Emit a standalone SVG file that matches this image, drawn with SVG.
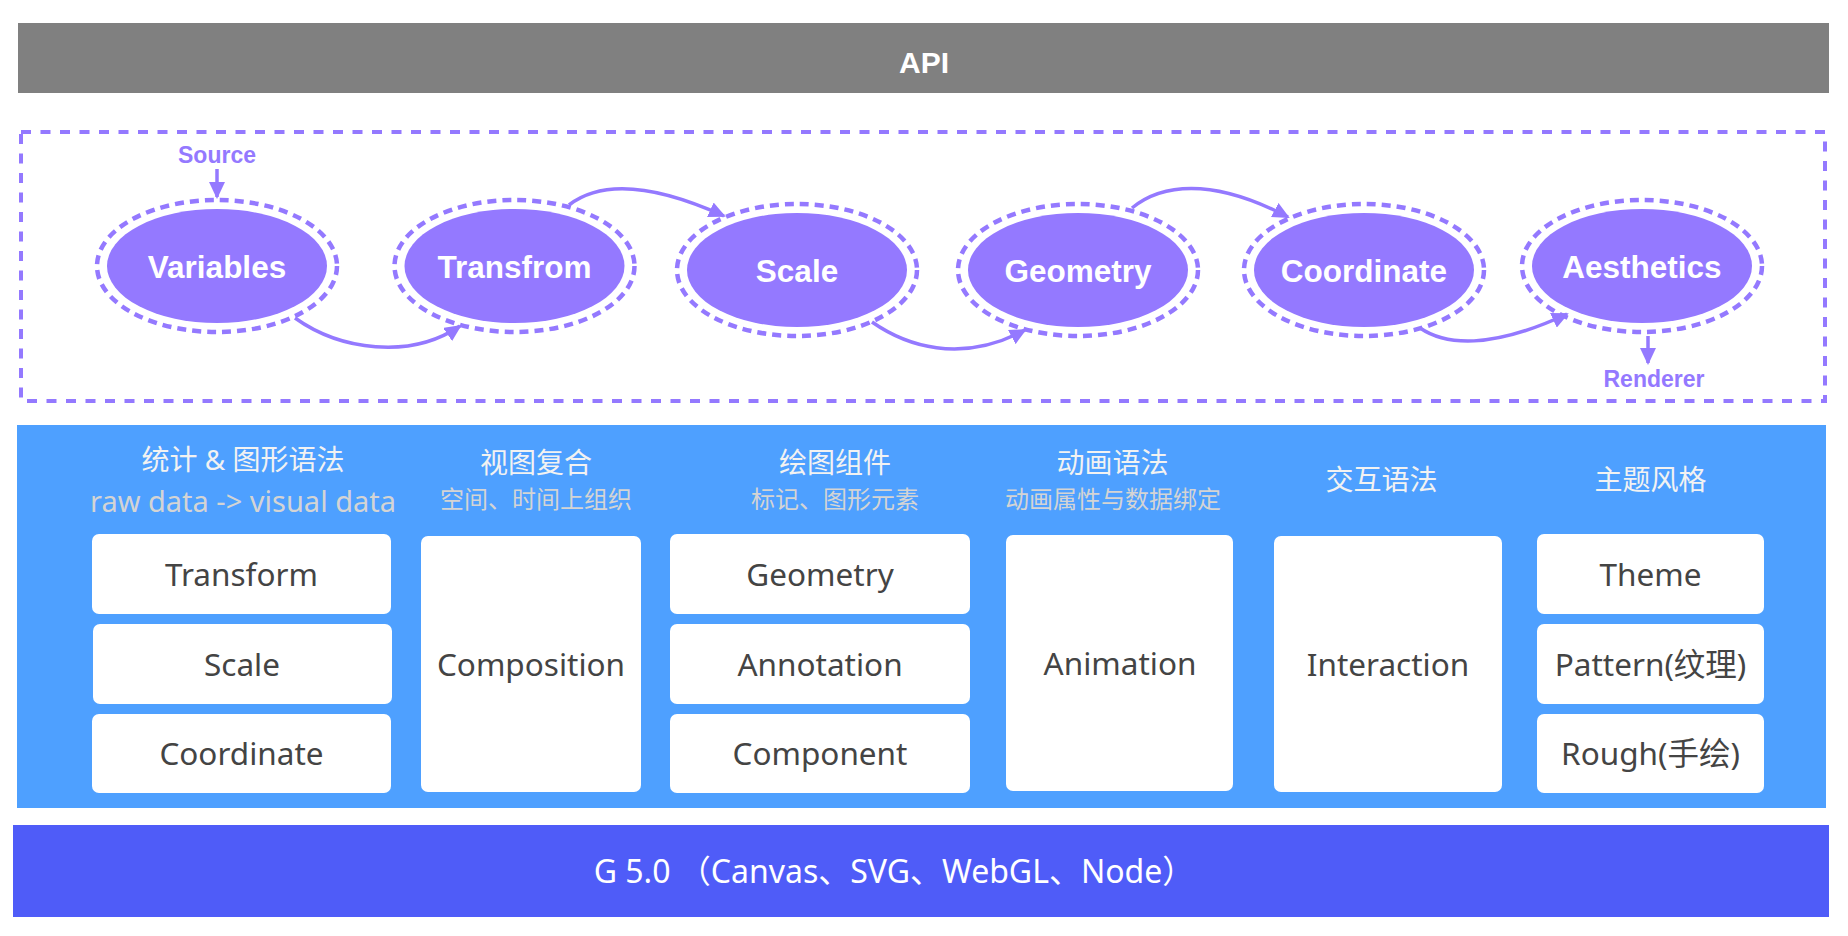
<svg xmlns="http://www.w3.org/2000/svg" width="1848" height="936" viewBox="0 0 1848 936">
<defs>
<style>
.pl{fill:#9479FF}
.ring{fill:none;stroke:#9479FF;stroke-width:4.5;stroke-dasharray:9 6}
.nl{font-family:"Liberation Sans",Arial,sans-serif;font-weight:bold;font-size:31.5px;fill:#fff;text-anchor:middle}
.io{font-family:"Liberation Sans",Arial,sans-serif;font-weight:bold;font-size:23px;fill:#9479FF;text-anchor:middle}
.con{fill:none;stroke:#9479FF;stroke-width:3.5}
.box{fill:#fff}
.bt{font-family:"Noto Sans","Noto Sans CJK SC",sans-serif;font-size:31.5px;fill:#444;text-anchor:middle}
.hd{font-family:"Noto Sans","Noto Sans CJK SC",sans-serif;font-size:28px;fill:#F2F2F2;text-anchor:middle}
.sub{font-family:"Noto Sans","Noto Sans CJK SC",sans-serif;font-size:24px;fill:#D4D4D4;text-anchor:middle}
.raw{font-size:29px}
</style>
<marker id="ah" markerUnits="userSpaceOnUse" markerWidth="18" markerHeight="16" refX="15" refY="8" orient="auto"><path d="M0,0 L17,8 L0,16 z" fill="#9479FF"/></marker>
</defs>
<rect width="1848" height="936" fill="#fff"/>

<g id="api">
<rect x="18" y="23" width="1811" height="70" fill="#808080"/>
<text x="924" y="73" font-family="Liberation Sans, Arial, sans-serif" font-weight="bold" font-size="30" fill="#fff" text-anchor="middle">API</text>
</g>

<g id="pipeline">
<rect x="21" y="132" width="1804" height="269" fill="none" stroke="#9479FF" stroke-width="4" stroke-dasharray="10 9.5"/>
<text class="io" x="217" y="163">Source</text>
<text class="io" x="1654" y="387">Renderer</text>
</g>

<g id="n-variables">
<ellipse class="ring" cx="217" cy="266" rx="120" ry="66"/>
<ellipse class="pl" cx="217" cy="266" rx="110" ry="57"/>
<text class="nl" x="217" y="278">Variables</text>
</g>
<g id="n-transfrom">
<ellipse class="ring" cx="514.5" cy="266" rx="120" ry="66"/>
<ellipse class="pl" cx="514.5" cy="266" rx="110" ry="57"/>
<text class="nl" x="514.5" y="278">Transfrom</text>
</g>
<g id="n-scale">
<ellipse class="ring" cx="797" cy="270" rx="120" ry="66"/>
<ellipse class="pl" cx="797" cy="270" rx="110" ry="57"/>
<text class="nl" x="797" y="282">Scale</text>
</g>
<g id="n-geometry">
<ellipse class="ring" cx="1078" cy="270" rx="120" ry="66"/>
<ellipse class="pl" cx="1078" cy="270" rx="110" ry="57"/>
<text class="nl" x="1078" y="282">Geometry</text>
</g>
<g id="n-coordinate">
<ellipse class="ring" cx="1364" cy="270" rx="120" ry="66"/>
<ellipse class="pl" cx="1364" cy="270" rx="110" ry="57"/>
<text class="nl" x="1364" y="282">Coordinate</text>
</g>
<g id="n-aesthetics">
<ellipse class="ring" cx="1642" cy="266" rx="120" ry="66"/>
<ellipse class="pl" cx="1642" cy="266" rx="110" ry="57"/>
<text class="nl" x="1642" y="278">Aesthetics</text>
</g>

<g id="connectors">
<path class="con" marker-end="url(#ah)" d="M217,169 L217,197"/>
<path class="con" marker-end="url(#ah)" d="M295,318 C340,350 410,360 460,326"/>
<path class="con" marker-end="url(#ah)" d="M569,205 C595,185 640,178 724,216"/>
<path class="con" marker-end="url(#ah)" d="M872,322 C905,345 960,365 1025,330"/>
<path class="con" marker-end="url(#ah)" d="M1132,208 C1160,185 1210,176 1288,217"/>
<path class="con" marker-end="url(#ah)" d="M1420,328 C1445,345 1490,350 1567,314"/>
<path class="con" marker-end="url(#ah)" d="M1648,336 L1648,363"/>
</g>

<g id="layer">
<rect x="17" y="425" width="1809" height="383" fill="#4EA0FF"/>
</g>

<g id="col-stat">
<text class="hd" x="243" y="470">统计 &amp; 图形语法</text>
<text class="sub raw" x="243" y="512">raw data -&gt; visual data</text>
<rect class="box" x="92" y="534" width="299" height="80" rx="7"/>
<text class="bt" x="241.5" y="586">Transform</text>
<rect class="box" x="93" y="624" width="299" height="80" rx="7"/>
<text class="bt" x="242" y="676">Scale</text>
<rect class="box" x="92" y="714" width="299" height="79" rx="7"/>
<text class="bt" x="241.5" y="765">Coordinate</text>
</g>

<g id="col-composition">
<text class="hd" x="536" y="473">视图复合</text>
<text class="sub" x="536" y="508">空间、时间上组织</text>
<rect class="box" x="421" y="536" width="220" height="256" rx="7"/>
<text class="bt" x="531" y="676">Composition</text>
</g>

<g id="col-component">
<text class="hd" x="835" y="473">绘图组件</text>
<text class="sub" x="835" y="508">标记、图形元素</text>
<rect class="box" x="670" y="534" width="300" height="80" rx="7"/>
<text class="bt" x="820" y="586">Geometry</text>
<rect class="box" x="670" y="624" width="300" height="80" rx="7"/>
<text class="bt" x="820" y="676">Annotation</text>
<rect class="box" x="670" y="714" width="300" height="79" rx="7"/>
<text class="bt" x="820" y="765">Component</text>
</g>

<g id="col-animation">
<text class="hd" x="1112.5" y="473">动画语法</text>
<text class="sub" x="1113" y="508">动画属性与数据绑定</text>
<rect class="box" x="1006" y="535" width="227" height="256" rx="7"/>
<text class="bt" x="1120" y="675">Animation</text>
</g>

<g id="col-interaction">
<text class="hd" x="1381.5" y="490">交互语法</text>
<rect class="box" x="1274" y="536" width="228" height="256" rx="7"/>
<text class="bt" x="1388" y="676">Interaction</text>
</g>

<g id="col-theme">
<text class="hd" x="1650.5" y="490">主题风格</text>
<rect class="box" x="1537" y="534" width="227" height="80" rx="7"/>
<text class="bt" x="1650.5" y="586">Theme</text>
<rect class="box" x="1537" y="624" width="227" height="80" rx="7"/>
<text class="bt" x="1650.5" y="676">Pattern(纹理)</text>
<rect class="box" x="1537" y="714" width="227" height="79" rx="7"/>
<text class="bt" x="1650.5" y="765">Rough(手绘)</text>
</g>

<g id="g-renderer">
<rect x="13" y="825" width="1816" height="92" fill="#4F5CF8"/>
<text x="894" y="883" font-family="Noto Sans, Noto Sans CJK SC, sans-serif" font-size="32" fill="#fff" text-anchor="middle">G 5.0 （Canvas、SVG、WebGL、Node）</text>
</g>
</svg>
